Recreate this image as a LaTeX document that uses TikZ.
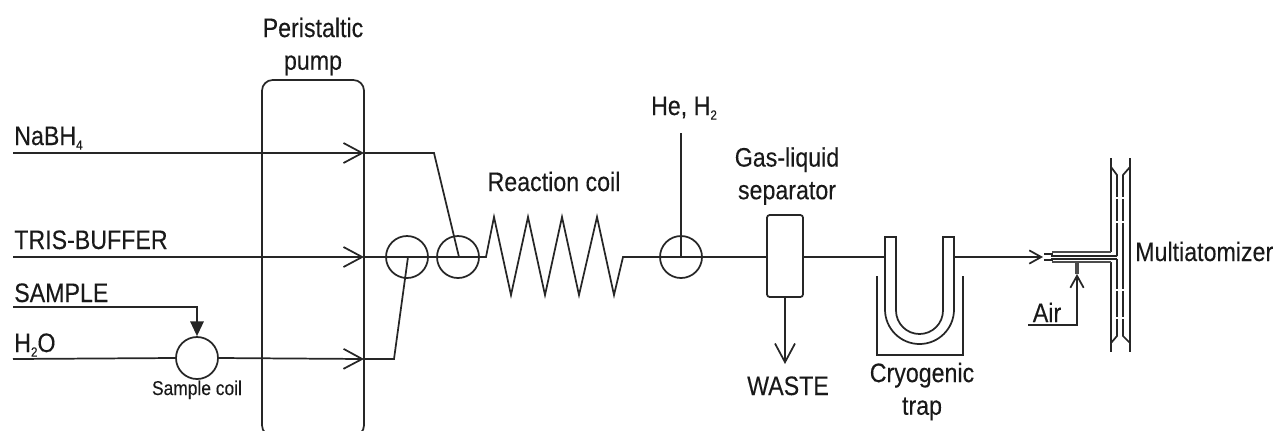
\documentclass[tikz,border=0pt]{standalone}
\usepackage{fontspec}
\setmainfont[FakeStretch=0.87,FakeBold=0.2]{Liberation Sans}
\usetikzlibrary{arrows.meta}
\newcommand{\lowidx}[1]{\raisebox{-3.5pt}{\fontsize{10}{10}\selectfont #1}}

\begin{document}
\begin{tikzpicture}[
    x=0.75pt, y=-0.75pt,
    font=\fontsize{20}{24.5}\selectfont,
    line/.style={line width=1.3pt, draw=black!85},
    thickline/.style={line width=2.2pt, draw=black!70},
    flow/.style={line, -{Straight Barb[length=14pt,width=15pt,line width=1.3pt]}},
    smallflow/.style={line, -{Straight Barb[length=9pt,width=10pt,line width=1.3pt]}},
    drop/.style={line, -{Triangle[length=11pt,width=10pt]}},
    junction/.style={draw=black!85, line width=1.3pt, circle, minimum size=31.5pt, inner sep=0pt},
    label/.style={align=center, inner sep=0pt, text=black!90},
    baselabel/.style={label, anchor=base},
    feed/.style={label, anchor=base west},
]

    \clip (0,0) rectangle (1277,430);

    % Peristaltic pump
    \node[line, draw, rounded corners=8pt, minimum width=76.5pt, minimum height=267pt, inner sep=0pt] (pump) at (313,258) {};
    \node[label] (pumplabel) at (313,46.5) {Peristaltic\\pump};

    % Feed lines
    \foreach \name/\yy in {nabh/153, tris/257, water/359} {
        \coordinate (\name start) at (13,\yy);
        \coordinate (\name tip) at (364,\yy);
    }
    \node[feed] (nabhlabel) at (14,145) {NaBH\lowidx{4}};
    \node[feed] (trislabel) at (14,249) {TRIS-BUFFER};
    \node[feed] (samplelabel) at (14,302) {SAMPLE};
    \node[feed] (waterlabel) at (14,352) {H\lowidx{2}O};

    % Sample coil
    \node[junction] (samplecoil) at (197,358) {};
    \node[baselabel, font=\fontsize{15}{17}\selectfont] (coillabel) at (197,395) {Sample coil};
    \coordinate (samplestart) at (13,307);
    \coordinate (samplebend) at (197,307);
    \draw[drop] (samplestart) -- (samplebend) -- (samplecoil.north);
    \draw[line] (waterstart) -- (samplecoil.west);
    \draw[flow] (samplecoil.east) -- (watertip);

    % Mixing points
    \node[junction] (mixa) at (407,257) {};
    \node[junction] (mixb) at (458,257) {};
    \node[junction] (mixc) at (681,257) {};
    \coordinate (nabhbend) at (434,153);
    \coordinate (waterbend) at (394,359);
    \coordinate (mixbin) at (459,257);
    \coordinate (mixain) at (408,257);
    \draw[flow] (nabhstart) -- (nabhtip);
    \draw[flow] (trisstart) -- (tristip);
    \draw[line] (nabhtip) -- (nabhbend) -- (mixbin);
    \draw[line] (watertip) -- (waterbend) -- (mixain);

    % Reaction coil
    \coordinate (coilin) at (486,257);
    \coordinate (coilout) at (623,257);
    \draw[line] (tristip) -- (coilin) -- (494,217) -- (511,295) -- (528,217) -- (545,295)
        -- (562,217) -- (579,295) -- (597,217) -- (614,295) -- (coilout) -- (mixc.center);
    \node[baselabel] (coillabelb) at (554,191) {Reaction coil};

    % Carrier gas
    \coordinate (gasin) at (681,133);
    \draw[line] (gasin) -- (mixc.center);
    \node[baselabel] (gaslabel) at (684,115) {He, H\lowidx{2}};

    % Separator
    \node[line, draw, rounded corners=2pt, minimum width=27pt, minimum height=61.5pt, inner sep=0pt] (separator) at (785,256) {};
    \node[label] (seplabel) at (787,176) {Gas-liquid\\separator};
    \coordinate (wastetip) at (785,364);
    \draw[flow] (separator.south) -- (wastetip);
    \node[baselabel] (wastelabel) at (788,395) {WASTE};
    \draw[line] (mixc.center) -- (separator.west |- mixc);

    % Cryogenic trap
    \coordinate (trapin) at (885,257);
    \coordinate (trapout) at (954,257);
    \coordinate (tubetip) at (1043,257);
    \draw[line] (separator.east |- mixc) -- (trapin);
    \draw[line] (885,309.5) -- (885,237) -- (896,237) -- (896,310.5) arc[start angle=180, end angle=0, radius=23.5] -- (943,237) -- (954,237) -- (954,309.5) arc[start angle=0, end angle=180, radius=34.5];
    \draw[line] (877,276) -- (877,355) -- (963,355) -- (963,276);
    \draw[smallflow] (trapout) -- (tubetip);
    \node[label] (traplabel) at (922,391.5) {Cryogenic\\trap};

    % Multiatomizer
    \draw[line] (1111,158) -- (1111,252);
    \draw[line] (1111,262) -- (1111,352);
    \draw[line] (1130,158) -- (1130,352);
    \draw[line] (1111,167) -- (1117,175) -- (1117,256);
    \draw[line] (1111,343) -- (1117,336) -- (1117,259);
    \draw[line] (1130,167) -- (1123,175) -- (1123,336) -- (1130,343);
    \foreach \yy in {198,222,290,318} {
        \fill[white] (1115,\yy-0.8) rectangle (1125,\yy+0.8);
    }
    \draw[thickline] (1052,252) -- (1111,252);
    \draw[thickline] (1052,262) -- (1111,262);
    \draw[line] (1044,254) -- (1052,254) -- (1052,256) -- (1117,256);
    \draw[line] (1044,260) -- (1052,260) -- (1052,259) -- (1117,259);
    \node[feed] (atomlabel) at (1135,261) {Multiatomizer};

    % Air inlet
    \coordinate (airstart) at (1028,325);
    \coordinate (airbend) at (1077,325);
    \coordinate (airtip) at (1077,274);
    \coordinate (airstub) at (1077,262);
    \draw[smallflow] (airstart) -- (airbend) -- (airtip);
    \draw[line width=3pt, draw=black!70] (airtip) -- (airstub);
    \node[baselabel] (airlabel) at (1047,322) {Air};

\end{tikzpicture}
\end{document}
